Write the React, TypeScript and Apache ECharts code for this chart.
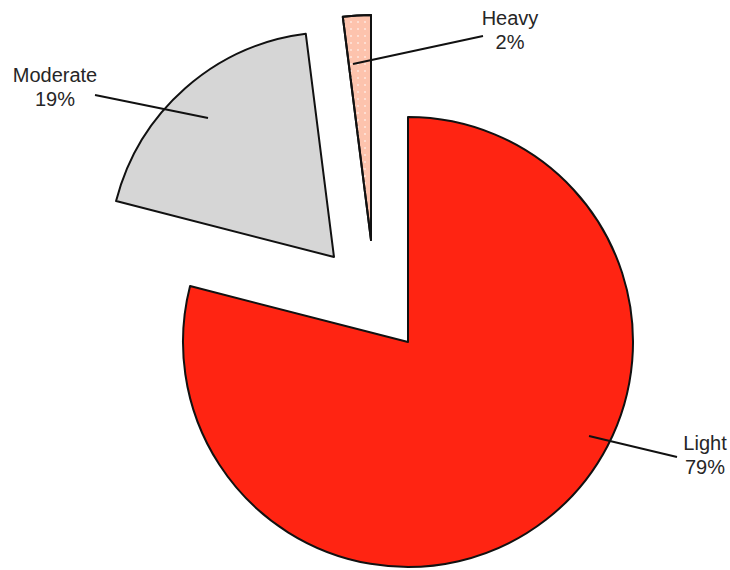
import React, { useEffect, useRef } from "react";
import * as echarts from "echarts";

// ---- data ----
const categories = ["Light", "Moderate", "Heavy"];
const percents = [79, 19, 2];

// ---- styling / layout ----
const sliceColors = ["#ff2412", "#d6d6d6", "#fdc3ad"];
// each slice is drawn by its own pie series so it can be pulled out separately
const sliceCenters: [number, number][] = [
  [408, 342],
  [334, 257],
  [371, 240],
];
const pieRadius = 225;
const labelSpots: Record<string, { x: number; y: number; line: number[][] }> = {
  Light: { x: 705, y: 455, line: [[589, 436], [677, 457]] },
  Moderate: { x: 55, y: 87, line: [[208, 118], [95, 95]] },
  Heavy: { x: 510, y: 30, line: [[353, 64], [483, 36]] },
};

export default function App() {
  const ref = useRef<HTMLDivElement>(null);
  useEffect(() => {
    if (!ref.current) return;
    const chart = echarts.init(ref.current, null, { renderer: "svg" });
    const series = categories.map((_, i) => ({
      type: "pie",
      silent: true,
      radius: pieRadius,
      center: sliceCenters[i],
      startAngle: 90,
      clockwise: true,
      avoidLabelOverlap: false,
      percentPrecision: 0,
      emphasis: { disabled: true },
      label: {
        show: true,
        position: "outside",
        formatter: "{b}\n{d}%",
        fontFamily: "'Liberation Sans', Arial, sans-serif",
        fontSize: 20,
        lineHeight: 24,
        color: "#262626",
        align: "center",
      },
      labelLine: { show: false },
      labelLayout: (p: any) => {
        const s = labelSpots[categories[p.dataIndex]];
        return { x: s.x, y: s.y, align: "center", verticalAlign: "middle" };
      },
      data: categories.map((name, j) => ({
        name,
        value: percents[j],
        itemStyle:
          j === i
            ? {
                color: sliceColors[j],
                borderColor: "#111",
                borderWidth: 2,
                ...(name === "Heavy"
                  ? {
                      decal: {
                        symbol: "rect",
                        symbolSize: 1,
                        dashArrayX: [1.5, 5],
                        dashArrayY: [1.5, 5],
                        color: "rgba(255,255,255,0.45)",
                      },
                    }
                  : {}),
              }
            : { color: "rgba(0,0,0,0)", borderWidth: 0 },
        label: { show: j === i },
      })),
    }));
    const leaders = categories.map((name) => {
      const [[x1, y1], [x2, y2]] = labelSpots[name].line;
      return {
        type: "line",
        z: 100,
        silent: true,
        shape: { x1, y1, x2, y2 },
        style: { stroke: "#111", lineWidth: 2 },
      };
    });
    chart.setOption({
      animation: false,
      backgroundColor: "#ffffff",
      series,
      graphic: { elements: leaders },
    } as any);
    return () => chart.dispose();
  }, []);
  return (
    <div
      ref={ref}
      style={{ position: "absolute", left: 0, top: 0, width: 730, height: 570 }}
    />
  );
}
